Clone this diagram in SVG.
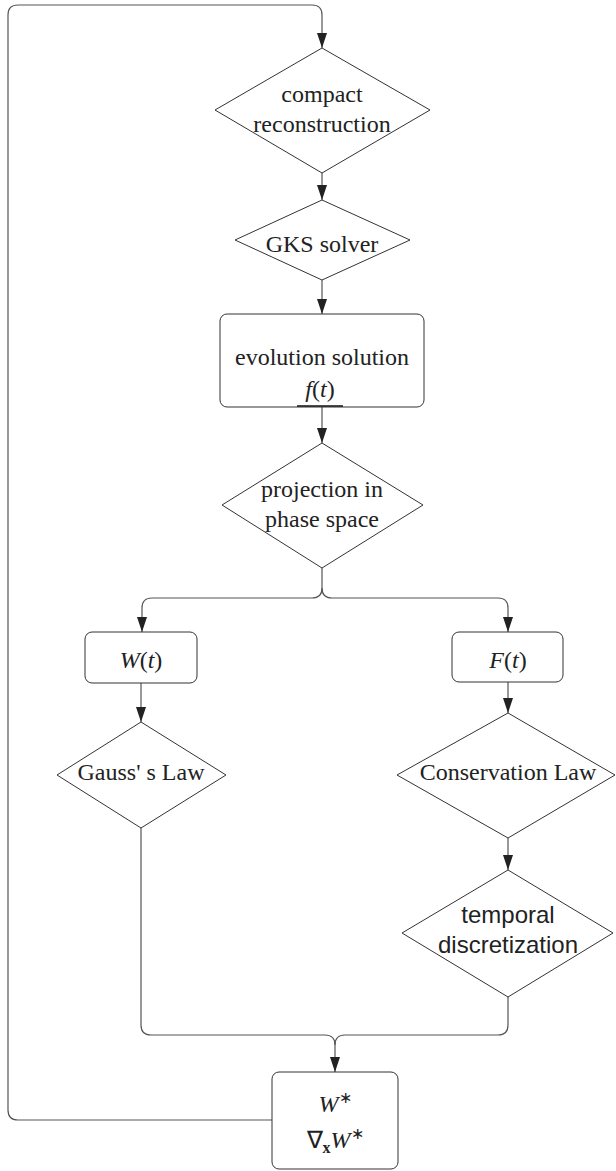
<svg xmlns="http://www.w3.org/2000/svg" width="616" height="1171" viewBox="0 0 616 1171">
<style>
.shape{fill:#fff;stroke:#333;stroke-width:1;stroke-linejoin:round}
.conn{fill:none;stroke:#555;stroke-width:1.2}
.t{font-family:"Liberation Serif","Times New Roman",serif;font-size:24px;fill:#222;text-anchor:middle}
.s{font-family:"Liberation Sans",Arial,sans-serif;font-size:24px;fill:#222;text-anchor:middle}
.i{font-style:italic}
</style>
<defs>
<marker id="ah" markerWidth="15" markerHeight="10" refX="15" refY="5" orient="auto" markerUnits="userSpaceOnUse" viewBox="0 0 15 10">
<path d="M0,0 L15,5 L0,10 Z" fill="#222"/>
</marker>
</defs>
<g id="connectors">
<path class="conn" d="M272,1120 H18 Q8,1120 8,1110 V15 Q8,5 18,5 H312 Q322,5 322,15 V48" marker-end="url(#ah)"/>
<path class="conn" d="M322,173 V200" marker-end="url(#ah)"/>
<path class="conn" d="M322,280 V314" marker-end="url(#ah)"/>
<path class="conn" d="M322,407 V443" marker-end="url(#ah)"/>
<path class="conn" d="M322,568 V588 Q322,598 312,598 H152 Q142,598 142,608 V632" marker-end="url(#ah)"/>
<path class="conn" d="M322,588 Q322,598 332,598 H498 Q508,598 508,608 V632" marker-end="url(#ah)"/>
<path class="conn" d="M141,683 V722" marker-end="url(#ah)"/>
<path class="conn" d="M508,682 V713" marker-end="url(#ah)"/>
<path class="conn" d="M508,838 V870" marker-end="url(#ah)"/>
<path class="conn" d="M141,828 V1025 Q141,1035 151,1035 H325 Q335,1035 335,1045 V1072" marker-end="url(#ah)"/>
<path class="conn" d="M508,997 V1025 Q508,1035 498,1035 H345 Q335,1035 335,1045"/>
</g>
<g id="compact">
<polygon class="shape" points="322,48 430,110 322,173 215,110"/>
<text class="t" x="322" y="102">compact</text>
<text class="t" x="322" y="132">reconstruction</text>
</g>
<g id="gks">
<polygon class="shape" points="322,200 410,240 322,280 235,240"/>
<text class="t" x="322" y="252">GKS solver</text>
</g>
<g id="evolution">
<rect class="shape" x="220" y="314" width="204" height="93" rx="7"/>
<text class="t" x="322" y="365">evolution solution</text>
<text class="t" x="320" y="397"><tspan class="i">f</tspan>(<tspan class="i">t</tspan>)</text>
<line x1="297" y1="406" x2="343" y2="406" stroke="#111" stroke-width="1.5"/>
</g>
<g id="projection">
<polygon class="shape" points="322,443 423,505 322,568 222,505"/>
<text class="t" x="322" y="497">projection in</text>
<text class="t" x="322" y="527">phase space</text>
</g>
<g id="wt">
<rect class="shape" x="85" y="632" width="112" height="51" rx="7"/>
<text class="t" x="141" y="668"><tspan class="i">W</tspan>(<tspan class="i">t</tspan>)</text>
</g>
<g id="gauss">
<polygon class="shape" points="141,722 226,775 141,828 57,775"/>
<text class="t" x="141" y="780">Gauss' s Law</text>
</g>
<g id="ft">
<rect class="shape" x="452" y="632" width="111" height="50" rx="7"/>
<text class="t" x="508" y="668"><tspan class="i">F</tspan>(<tspan class="i">t</tspan>)</text>
</g>
<g id="conservation">
<polygon class="shape" points="508,713 615,775 508,838 397,775"/>
<text class="t" x="508" y="780">Conservation Law</text>
</g>
<g id="temporal">
<polygon class="shape" points="508,870 613,933 508,997 402,933"/>
<text class="s" x="508" y="923">temporal</text>
<text class="s" x="508" y="953">discretization</text>
</g>
<g id="wstar">
<rect class="shape" x="272" y="1072" width="126" height="97" rx="7"/>
<text class="t" x="335" y="1112"><tspan class="i">W</tspan><tspan font-size="16" dy="-9">∗</tspan></text>
<text class="t" x="335" y="1148">∇<tspan font-weight="bold" font-size="16" dy="5">x</tspan><tspan class="i" dy="-5">W</tspan><tspan font-size="16" dy="-9">∗</tspan></text>
</g>
</svg>
